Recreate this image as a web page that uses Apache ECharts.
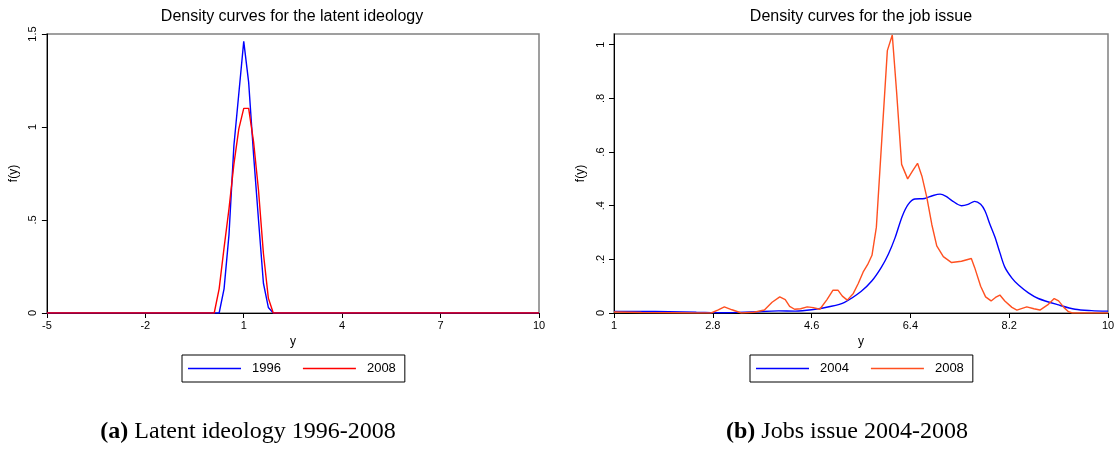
<!DOCTYPE html>
<html>
<head>
<meta charset="utf-8">
<script src="https://cdn.jsdelivr.net/npm/echarts@6/dist/echarts.min.js"></script>
<style>
body { margin: 0; background: #fff; }
#left, #right { position: absolute; top: 0; height: 450px; }
#left { left: 0; width: 560px; }
#right { left: 560px; width: 559px; }
</style>
</head>
<body>
<div id="left"></div>
<div id="right"></div>
<script>
// (a) latent ideology densities
const ideoX1996 = [-5, 0.25, 0.4, 0.55, 0.7, 0.85, 1.0, 1.15, 1.3, 1.45, 1.6, 1.75, 1.9, 10]
const ideoY1996 = [0, 0, 0.13, 0.42, 0.9, 1.18, 1.46, 1.24, 0.85, 0.5, 0.16, 0.03, 0, 0]
const ideoX2008 = [-5, 0.1, 0.25, 0.4, 0.55, 0.7, 0.85, 1.0, 1.15, 1.3, 1.45, 1.6, 1.75, 1.9, 10]
const ideoY2008 = [0, 0, 0.13, 0.35, 0.56, 0.8, 0.99, 1.1, 1.1, 0.92, 0.66, 0.32, 0.08, 0, 0]
const ideoXTicks = [-5, -2, 1, 4, 7, 10]
const ideoXLabels = ['-5', '-2', '1', '4', '7', '10']
const ideoYTicks = [0, 0.5, 1, 1.5]
const ideoYLabels = ['0', '.5', '1', '1.5']

// (b) job issue densities
const jobsX2004 = [1, 1.5, 2, 2.5, 3, 3.5, 4, 4.3, 4.6, 4.96, 5.2, 5.5, 5.7, 5.87, 6, 6.12, 6.25, 6.36, 6.48, 6.66, 6.8, 6.94, 7.05, 7.15, 7.33, 7.45, 7.57, 7.68, 7.76, 7.85, 7.94, 8.03, 8.12, 8.25, 8.37, 8.55, 8.73, 9.1, 9.4, 9.7, 10]
const jobsY2004 = [0.006, 0.006, 0.005, 0.003, 0.001, 0.004, 0.008, 0.007, 0.012, 0.025, 0.04, 0.08, 0.12, 0.17, 0.22, 0.28, 0.36, 0.405, 0.425, 0.427, 0.437, 0.443, 0.435, 0.42, 0.4, 0.405, 0.416, 0.405, 0.38, 0.33, 0.283, 0.225, 0.171, 0.13, 0.104, 0.075, 0.054, 0.03, 0.014, 0.009, 0.007]
const jobsX2008 = [1, 1.5, 2, 2.5, 2.77, 2.9, 3.01, 3.15, 3.32, 3.55, 3.74, 3.88, 4.02, 4.12, 4.2, 4.29, 4.4, 4.52, 4.63, 4.75, 4.88, 4.99, 5.08, 5.16, 5.25, 5.36, 5.45, 5.54, 5.62, 5.7, 5.78, 5.88, 5.98, 6.07, 6.15, 6.24, 6.35, 6.44, 6.53, 6.61, 6.7, 6.79, 6.88, 7, 7.15, 7.33, 7.51, 7.57, 7.68, 7.77, 7.87, 7.95, 8.03, 8.12, 8.25, 8.34, 8.52, 8.65, 8.76, 8.9, 9.02, 9.1, 9.2, 9.28, 9.35, 10]
const jobsY2008 = [0.004, 0.002, 0.001, 0, 0, 0.012, 0.023, 0.012, 0, 0.003, 0.011, 0.04, 0.06, 0.05, 0.025, 0.014, 0.016, 0.023, 0.02, 0.014, 0.05, 0.085, 0.085, 0.063, 0.048, 0.073, 0.11, 0.153, 0.18, 0.215, 0.32, 0.65, 0.978, 1.036, 0.82, 0.554, 0.5, 0.53, 0.558, 0.51, 0.43, 0.33, 0.25, 0.21, 0.188, 0.193, 0.203, 0.17, 0.1, 0.06, 0.045, 0.058, 0.067, 0.045, 0.021, 0.011, 0.023, 0.016, 0.011, 0.03, 0.054, 0.045, 0.02, 0.005, 0, 0]
const jobsXTicks = [1, 2.8, 4.6, 6.4, 8.2, 10]
const jobsXLabels = ['1', '2.8', '4.6', '6.4', '8.2', '10']
const jobsYTicks = [0, 0.2, 0.4, 0.6, 0.8, 1]
const jobsYLabels = ['0', '.2', '.4', '.6', '.8', '1']

const SANS = '"Liberation Sans", Arial, sans-serif'
const SERIF = '"Liberation Serif", "DejaVu Serif", serif'

function zip(xs, ys) {
  return xs.map((x, i) => [x, ys[i]])
}

function labelOf(ticks, labels) {
  return function (v) {
    const i = ticks.findIndex(t => Math.abs(t - v) < 1e-6)
    return i < 0 ? '' : labels[i]
  }
}

function axisBase() {
  return {
    axisLine: { show: true, onZero: false, lineStyle: { color: '#000', width: 1 } },
    axisTick: { show: true, inside: false, length: 5, lineStyle: { color: '#000' } },
    splitLine: { show: false },
    nameTextStyle: { color: '#000', fontSize: 12, fontFamily: SANS }
  }
}

function buildOption(c) {
  const x = axisBase()
  const y = axisBase()
  return {
    animation: false,
    backgroundColor: '#fff',
    grid: {
      left: c.gridLeft, right: c.gridRight, top: 34, bottom: 137,
      show: true, borderColor: '#808080', borderWidth: 1.5, backgroundColor: 'transparent'
    },
    xAxis: Object.assign(x, {
      type: 'value', min: c.xMin, max: c.xMax,
      name: 'y', nameLocation: 'middle', nameGap: 22,
      axisTick: Object.assign(x.axisTick, { customValues: c.xTicks }),
      axisLabel: {
        customValues: c.xTicks, formatter: labelOf(c.xTicks, c.xLabels),
        color: '#000', fontSize: 11, fontFamily: SANS, margin: 7
      }
    }),
    yAxis: Object.assign(y, {
      type: 'value', min: 0, max: c.yMax,
      name: 'f(y)', nameLocation: 'middle', nameGap: 22, nameRotate: 90,
      axisTick: Object.assign(y.axisTick, { customValues: c.yTicks }),
      axisLabel: {
        customValues: c.yTicks, formatter: labelOf(c.yTicks, c.yLabels),
        rotate: 90, color: '#000', fontSize: 11, fontFamily: SANS, margin: 8
      }
    }),
    legend: {
      left: c.legendLeft, top: 355,
      icon: 'rect', itemWidth: 53, itemHeight: 1.5, itemGap: 22,
      padding: [7, 9, 7, 6],
      borderColor: '#000', borderWidth: 1, borderRadius: 0,
      textStyle: { color: '#000', fontSize: 13, fontFamily: SANS, padding: [0, 0, 0, 6], lineHeight: 13 },
      data: c.series.map(s => s.name)
    },
    graphic: [{
      type: 'text', x: c.titleX, y: 17,
      style: {
        text: c.title, fill: '#000', font: '16px ' + SANS,
        align: 'center', verticalAlign: 'middle', textAlign: 'center', textVerticalAlign: 'middle'
      }
    }, {
      type: 'text', x: c.captionX, y: 432,
      style: {
        text: c.caption, fill: '#000', font: '24px ' + SERIF,
        align: 'center', verticalAlign: 'middle', textAlign: 'center', textVerticalAlign: 'middle',
        rich: { b: { fontWeight: 'bold', fontSize: 24, fontFamily: SERIF, fill: '#000' } }
      }
    }],
    series: c.series.map(s => ({
      name: s.name, type: 'line', data: s.data,
      symbol: 'none', smooth: s.smooth || false,
      lineStyle: { color: s.color, width: 1.4 },
      itemStyle: { color: s.color }
    }))
  }
}

const leftChart = echarts.init(document.getElementById('left'))
leftChart.setOption(buildOption({
  gridLeft: 46, gridRight: 21,
  xMin: -5, xMax: 10, xTicks: ideoXTicks, xLabels: ideoXLabels,
  yMax: 1.5, yTicks: ideoYTicks, yLabels: ideoYLabels,
  legendLeft: 182,
  title: 'Density curves for the latent ideology', titleX: 292,
  caption: '{b|(a)} Latent ideology 1996-2008', captionX: 248,
  series: [
    { name: '1996', color: '#0000ff', data: zip(ideoX1996, ideoY1996) },
    { name: '2008', color: '#ff0000', data: zip(ideoX2008, ideoY2008) }
  ]
}))

const rightChart = echarts.init(document.getElementById('right'))
rightChart.setOption(buildOption({
  gridLeft: 54, gridRight: 11,
  xMin: 1, xMax: 10, xTicks: jobsXTicks, xLabels: jobsXLabels,
  yMax: 1.04, yTicks: jobsYTicks, yLabels: jobsYLabels,
  legendLeft: 190,
  title: 'Density curves for the job issue', titleX: 301,
  caption: '{b|(b)} Jobs issue 2004-2008', captionX: 287,
  series: [
    { name: '2004', color: '#0000ff', data: zip(jobsX2004, jobsY2004), smooth: 0.3 },
    { name: '2008', color: '#ff5020', data: zip(jobsX2008, jobsY2008) }
  ]
}))
</script>
</body>
</html>
